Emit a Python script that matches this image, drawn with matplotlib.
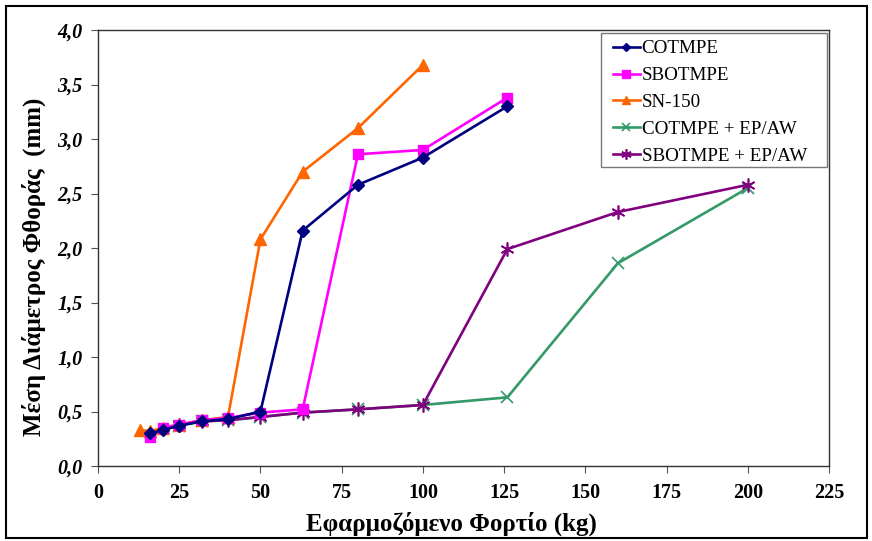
import matplotlib
matplotlib.use("Agg")
import matplotlib.pyplot as plt
from matplotlib.patches import Rectangle

# Applied load (kg) and mean wear scar diameter (mm) per lubricant
load_cotmpe = [16, 20, 25, 32, 40, 50, 63, 80, 100, 126]
wsd_cotmpe = [0.30, 0.33, 0.37, 0.41, 0.43, 0.50, 2.16, 2.58, 2.83, 3.30]

load_sbotmpe = [16, 20, 25, 32, 40, 50, 63, 80, 100, 126]
wsd_sbotmpe = [0.27, 0.35, 0.38, 0.42, 0.44, 0.49, 0.52, 2.86, 2.90, 3.38]

load_sn150 = [13, 16, 20, 25, 32, 40, 50, 63, 80, 100]
wsd_sn150 = [0.33, 0.32, 0.35, 0.38, 0.42, 0.45, 2.08, 2.70, 3.10, 3.68]

load_cot_ep = [25, 32, 40, 50, 63, 80, 100, 126, 160, 200]
wsd_cot_ep = [0.37, 0.41, 0.42, 0.45, 0.49, 0.52, 0.56, 0.63, 1.86, 2.55]

load_sbot_ep = [25, 32, 40, 50, 63, 80, 100, 126, 160, 200]
wsd_sbot_ep = [0.38, 0.41, 0.42, 0.45, 0.49, 0.52, 0.56, 1.99, 2.33, 2.58]

x_ticks = [0, 25, 50, 75, 100, 125, 150, 175, 200, 225]
y_ticks = [0.0, 0.5, 1.0, 1.5, 2.0, 2.5, 3.0, 3.5, 4.0]

serif = "Liberation Serif"

fig = plt.figure(figsize=(8.72, 5.41), dpi=100)
ax = fig.add_axes([0.1124, 0.1386, 0.9507 - 0.1124, 0.9445 - 0.1386])

lw = 1.9
ax.plot(load_sbot_ep, wsd_sbot_ep, color="#800080", lw=lw, marker=(6, 2, 0),
        ms=10, mew=1.2, label="SBOTMPE + EP/AW", zorder=3)
ax.plot(load_cot_ep, wsd_cot_ep, color="#339966", lw=lw, marker="x",
        ms=8, mew=1.2, label="COTMPE + EP/AW", zorder=2)
ax.plot(load_sn150, wsd_sn150, color="#FF6600", lw=lw, marker="^",
        ms=8, label="SN-150", zorder=4)
ax.plot(load_sbotmpe, wsd_sbotmpe, color="#FF00FF", lw=lw, marker="s",
        ms=7.5, label="SBOTMPE", zorder=5)
ax.plot(load_cotmpe, wsd_cotmpe, color="#000080", lw=lw, marker="D",
        ms=6, label="COTMPE", zorder=6)

ax.set_xlim(0, 225)
ax.set_ylim(0, 4.0)
ax.set_xticks(x_ticks)
ax.set_yticks(y_ticks)
ax.set_xticklabels([str(v) for v in x_ticks], fontfamily=serif,
                   fontweight="bold", fontsize=14.5)
ax.set_yticklabels([f"{v:.1f}".replace(".", ",") for v in y_ticks],
                   fontfamily=serif, fontweight="bold", fontstyle="italic",
                   fontsize=14.5)
ax.tick_params(direction="out", length=5, width=0.8, color="#555555")
ax.tick_params(axis="x", pad=7)
ax.tick_params(axis="y", pad=6)
for s in ax.spines.values():
    s.set_linewidth(1.0)
    s.set_color("#333333")

ax.set_xlabel("Εφαρμοζόμενο Φορτίο (kg)", fontfamily=serif,
              fontweight="bold", fontsize=18)
ax.xaxis.set_label_coords(0.483, -0.104)
ax.set_ylabel("Μέση Διάμετρος Φθοράς  (mm)", fontfamily=serif,
              fontweight="bold", fontsize=18)
ax.yaxis.set_label_coords(-0.071, 0.456)

# legend entries without a frame, boxed by a separate rectangle
handles, labels = ax.get_legend_handles_labels()
order = [4, 3, 2, 1, 0]
leg = ax.legend([handles[i] for i in order], [labels[i] for i in order],
                loc="upper left", bbox_to_anchor=(0.7045, 0.977),
                borderaxespad=0.0, borderpad=0.0,
                prop={"family": serif, "size": 13.7}, frameon=False,
                handlelength=1.4, handletextpad=0.1, labelspacing=0.5,
                markerscale=0.75)
ax.add_patch(Rectangle((0.688, 0.686), 0.997 - 0.688, 0.993 - 0.686,
                       transform=ax.transAxes, fill=True, facecolor="white",
                       edgecolor="#777777", lw=1.0, zorder=7))
leg.set_zorder(8)

# outer frame around the whole figure
fig.patches.append(Rectangle((0.007, 0.006), 0.987, 0.982,
                             transform=fig.transFigure, fill=False,
                             edgecolor="black", lw=1.5))

fig.savefig("out.png", dpi=100)
